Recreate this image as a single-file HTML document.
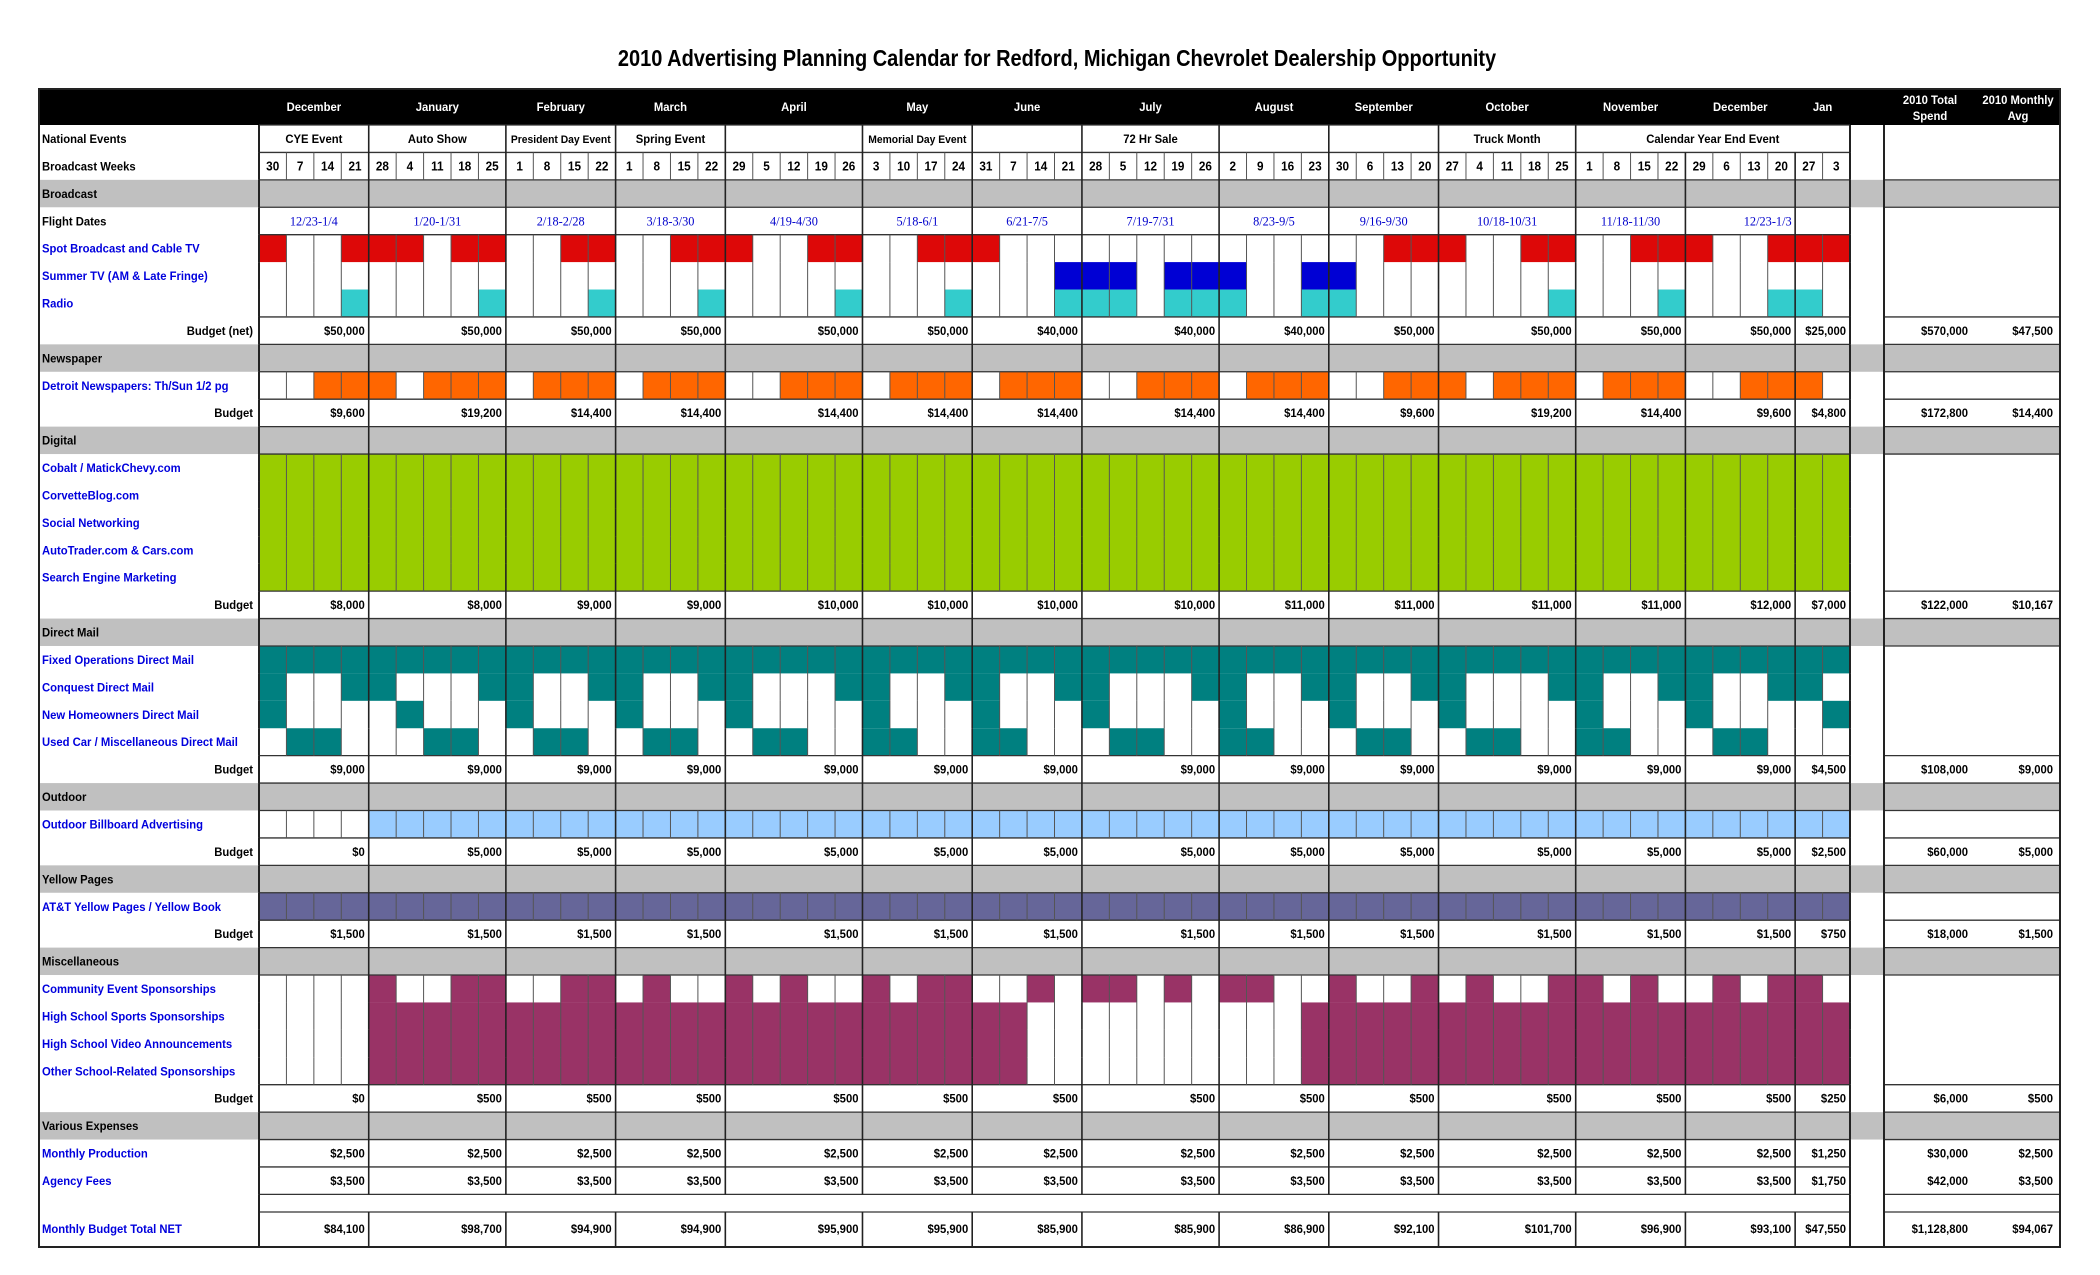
<!DOCTYPE html>
<html><head><meta charset="utf-8"><style>
html,body{margin:0;padding:0;background:#fff;width:2100px;height:1275px;overflow:hidden}
svg{display:block}
text{font-family:"Liberation Sans Narrow","Liberation Sans",Arial,sans-serif;font-weight:bold}
text.serif{font-family:"Liberation Serif",serif;font-weight:normal}
</style></head><body>
<svg id="s" width="2100" height="1275" viewBox="0 0 2100 1275" xmlns="http://www.w3.org/2000/svg"></svg>
<script>
var o=[];
var L=39,LC=259,WR=1850,GR=1884,TS=1976,R=2060,CW=(WR-LC)/58,RH=27.42,HT=89,HB=125;
function wx(k){return LC+k*CW;}
function ry(i){if(i<=39)return HB+i*RH;return 1212;}
function rb(i){if(i<39)return HB+(i+1)*RH;if(i==39)return 1212;return 1247;}
function rect(x,y,w,h,c){o.push('<rect x="'+x.toFixed(2)+'" y="'+y.toFixed(2)+'" width="'+w.toFixed(2)+'" height="'+h.toFixed(2)+'" fill="'+c+'"/>');}
function line(x1,y1,x2,y2,c,w){o.push('<line x1="'+x1.toFixed(2)+'" y1="'+y1.toFixed(2)+'" x2="'+x2.toFixed(2)+'" y2="'+y2.toFixed(2)+'" stroke="'+c+'" stroke-width="'+w+'"/>');}
function txt(x,y,s,opt){opt=opt||{};var fs=opt.fs||12.5,c=opt.c||'#000',a=opt.a||'start',sx=opt.sx||0.94,cl=opt.serif?' class="serif"':'';
o.push('<text'+cl+' transform="translate('+x.toFixed(2)+','+y.toFixed(2)+') scale('+sx+',1)" font-size="'+fs+'" fill="'+c+'" text-anchor="'+a+'">'+s+'</text>');}
var MS=[0,4,9,13,17,22,26,30,35,39,43,48,52,56,58];
var MN=["December","January","February","March","April","May","June","July","August","September","October","November","December","Jan"];
var W=[30,7,14,21,28,4,11,18,25,1,8,15,22,1,8,15,22,29,5,12,19,26,3,10,17,24,31,7,14,21,28,5,12,19,26,2,9,16,23,30,6,13,20,27,4,11,18,25,1,8,15,22,29,6,13,20,27,3];
txt(1057,66,"2010 Advertising Planning Calendar for Redford, Michigan Chevrolet Dealership Opportunity",{fs:23,a:'middle',sx:0.87});
rect(L,HT,R-L,HB-HT,'#000');
for(var m=0;m<14;m++){var cx=(wx(MS[m])+wx(MS[m+1]))/2;txt(cx,111,MN[m],{fs:12,c:'#fff',a:'middle'});}
txt(1930,104,"2010 Total",{fs:12,c:'#fff',a:'middle'});txt(1930,120,"Spend",{fs:12,c:'#fff',a:'middle'});
txt(2018,104,"2010 Monthly",{fs:12,c:'#fff',a:'middle'});txt(2018,120,"Avg",{fs:12,c:'#fff',a:'middle'});
var GRAY=[2,8,11,18,24,27,30,36];
GRAY.forEach(function(i){rect(L,ry(i),R-L,rb(i)-ry(i),'#c0c0c0');});
function fill(rows,cols,c){cols.forEach(function(k){rect(wx(k),ry(rows[0]),CW,rb(rows[rows.length-1])-ry(rows[0]),c);});}
fill([4],[0,3,4,5,7,8,11,12,15,16,17,20,21,24,25,26,41,42,43,46,47,50,51,52,55,56,57],'#dd0808');
fill([5],[29,30,31,33,34,35,38,39],'#0000d4');
fill([6],[3,8,12,16,21,25,29,30,31,33,34,35,38,39,47,51,55,56],'#33cccc');
var ow=[0,1,5,9,13,17,18,22,26,30,31,35,39,40,44,48,52,53,57],oc=[];for(var k=0;k<58;k++)if(ow.indexOf(k)<0)oc.push(k);
fill([9],oc,'#ff6600');
rect(LC,ry(12),WR-LC,rb(16)-ry(12),'#99cc00');
var DM=["FCN","FU","FU","FC","FC","FN","FU","FU","FC","FCN","FU","FU","FC","FCN","FU","FU","FC","FCN","FU","FU","F","FC","FCNU","FU","F","FC","FCNU","FU","F","FC","FCN","FU","FU","F","FC","FCNU","FU","F","FC","FCN","FU","FU","FC","FCN","FU","FU","F","FC","FCNU","FU","F","FC","FCN","FU","FU","FC","FC","FN"];
for(k=0;k<58;k++){var s=DM[k];"FCNU".split("").forEach(function(ch,j){if(s.indexOf(ch)>=0)rect(wx(k),ry(19+j),CW,RH,'#008080');});}
rect(wx(4),ry(25),WR-wx(4),RH,'#99ccff');
rect(LC,ry(28),WR-LC,RH,'#666699');
var MI=["","","","","A","B","B","A","A","B","B","A","A","B","A","B","B","A","B","A","B","B","A","B","A","A","B","B","T","","T","T","","T","","T","T","","B","A","B","B","A","B","A","B","B","A","A","B","A","B","B","A","B","A","A","B"];
for(k=0;k<58;k++){var c='#993366';if(MI[k]=="A"||MI[k]=="T")rect(wx(k),ry(31),CW,RH,c);if(MI[k]=="A"||MI[k]=="B")rect(wx(k),ry(32),CW,rb(34)-ry(32),c);}
var NOH=[5,6,13,14,15,16,20,21,22,32,33,34];
for(var i=0;i<=40;i++){if(NOH.indexOf(i)>=0)continue;var y=ry(i);line(LC,y,WR,y,'#333',1.3);}
line(LC,1247,WR,1247,'#333',2);
var RH_L=[2,3,7,8,9,10,11,12,17,18,19,23,24,25,26,27,28,29,30,31,35,36,37,39,40];
RH_L.forEach(function(i){line(GR,ry(i),R,ry(i),'#333',1.3);});
line(GR,1247,R,1247,'#333',2);
var WROWS=[1,4,5,6,9,12,13,14,15,16,19,20,21,22,25,28,31,32,33,34];
WROWS.forEach(function(i){for(var k=1;k<58;k++){if(MS.indexOf(k)>=0)continue;line(wx(k),ry(i),wx(k),rb(i),'#555',1);}});
for(var m=0;m<=14;m++){var x=wx(MS[m]);
 for(var i=0;i<=40;i++){if(i==39&&m>0&&m<14)continue;if(i==0&&(m==12||m==13))continue;
  line(x,ry(i),x,rb(i),'#222',(m==0||m==14)?2:1.6);}}
line(GR,HB,GR,1247,'#222',2);
o.push('<rect x="'+L+'" y="'+HT+'" width="'+(R-L)+'" height="'+(1247-HT)+'" fill="none" stroke="#222" stroke-width="2"/>');
var EV=[[0,4,"CYE Event"],[4,9,"Auto Show"],[9,13,"President Day Event"],[13,17,"Spring Event"],[22,26,"Memorial Day Event"],[30,35,"72 Hr Sale"],[43,48,"Truck Month"],[48,58,"Calendar Year End Event"]];
EV.forEach(function(e){txt((wx(e[0])+wx(e[1]))/2,ry(0)+18,e[2],{fs:e[2].length>15&&e[1]-e[0]<5?11:12,a:'middle'});});
for(k=0;k<58;k++)txt(wx(k)+CW/2,ry(1)+18,String(W[k]),{fs:12.5,a:'middle'});
var FD=["12/23-1/4","1/20-1/31","2/18-2/28","3/18-3/30","4/19-4/30","5/18-6/1","6/21-7/5","7/19-7/31","8/23-9/5","9/16-9/30","10/18-10/31","11/18-11/30"];
for(m=0;m<12;m++)txt((wx(MS[m])+wx(MS[m+1]))/2,ry(3)+18,FD[m],{fs:13,c:'#0000cc',a:'middle',sx:0.95,serif:1});
txt((wx(52)+wx(58))/2,ry(3)+18,"12/23-1/3",{fs:13,c:'#0000cc',a:'middle',sx:0.95,serif:1});
var B='#0000dd';
var LB=[[0,"National Events"],[1,"Broadcast Weeks"],[2,"Broadcast"],[3,"Flight Dates"],[4,"Spot Broadcast and Cable TV",B],[5,"Summer TV (AM &amp; Late Fringe)",B],[6,"Radio",B],[8,"Newspaper"],[9,"Detroit Newspapers:  Th/Sun 1/2 pg",B],[11,"Digital"],[12,"Cobalt / MatickChevy.com",B],[13,"CorvetteBlog.com",B],[14,"Social Networking",B],[15,"AutoTrader.com &amp; Cars.com",B],[16,"Search Engine Marketing",B],[18,"Direct Mail"],[19,"Fixed Operations Direct Mail",B],[20,"Conquest Direct Mail",B],[21,"New Homeowners Direct Mail",B],[22,"Used Car / Miscellaneous Direct Mail",B],[24,"Outdoor"],[25,"Outdoor Billboard Advertising",B],[27,"Yellow Pages"],[28,"AT&amp;T Yellow Pages / Yellow Book",B],[30,"Miscellaneous"],[31,"Community Event Sponsorships",B],[32,"High School Sports Sponsorships",B],[33,"High School Video Announcements",B],[34,"Other School-Related Sponsorships",B],[36,"Various Expenses"],[37,"Monthly Production",B],[38,"Agency Fees",B],[40,"Monthly Budget Total NET",B]];
LB.forEach(function(l){var y=l[0]==40?1233:ry(l[0])+18;txt(42,y,l[1],{fs:12,c:l[2]||'#000',sx:0.94});});
var BU=[[7,"Budget (net)",["50,000","50,000","50,000","50,000","50,000","50,000","40,000","40,000","40,000","50,000","50,000","50,000","50,000","25,000","570,000","47,500"]],
[10,"Budget",["9,600","19,200","14,400","14,400","14,400","14,400","14,400","14,400","14,400","9,600","19,200","14,400","9,600","4,800","172,800","14,400"]],
[17,"Budget",["8,000","8,000","9,000","9,000","10,000","10,000","10,000","10,000","11,000","11,000","11,000","11,000","12,000","7,000","122,000","10,167"]],
[23,"Budget",["9,000","9,000","9,000","9,000","9,000","9,000","9,000","9,000","9,000","9,000","9,000","9,000","9,000","4,500","108,000","9,000"]],
[26,"Budget",["0","5,000","5,000","5,000","5,000","5,000","5,000","5,000","5,000","5,000","5,000","5,000","5,000","2,500","60,000","5,000"]],
[29,"Budget",["1,500","1,500","1,500","1,500","1,500","1,500","1,500","1,500","1,500","1,500","1,500","1,500","1,500","750","18,000","1,500"]],
[35,"Budget",["0","500","500","500","500","500","500","500","500","500","500","500","500","250","6,000","500"]],
[37,"",["2,500","2,500","2,500","2,500","2,500","2,500","2,500","2,500","2,500","2,500","2,500","2,500","2,500","1,250","30,000","2,500"]],
[38,"",["3,500","3,500","3,500","3,500","3,500","3,500","3,500","3,500","3,500","3,500","3,500","3,500","3,500","1,750","42,000","3,500"]],
[40,"",["84,100","98,700","94,900","94,900","95,900","95,900","85,900","85,900","86,900","92,100","101,700","96,900","93,100","47,550","1,128,800","94,067"]]];
BU.forEach(function(b){var y=b[0]==40?1233:ry(b[0])+18;if(b[1])txt(253,y,b[1],{fs:12,a:'end'});
 for(var m=0;m<14;m++)txt(wx(MS[m+1])-4,y,"$"+b[2][m],{fs:12,a:'end'});
 txt(1968,y,"$"+b[2][14],{fs:12,a:'end'});txt(2053,y,"$"+b[2][15],{fs:12,a:'end'});});
document.getElementById('s').innerHTML=o.join('');
</script>
</body></html>
